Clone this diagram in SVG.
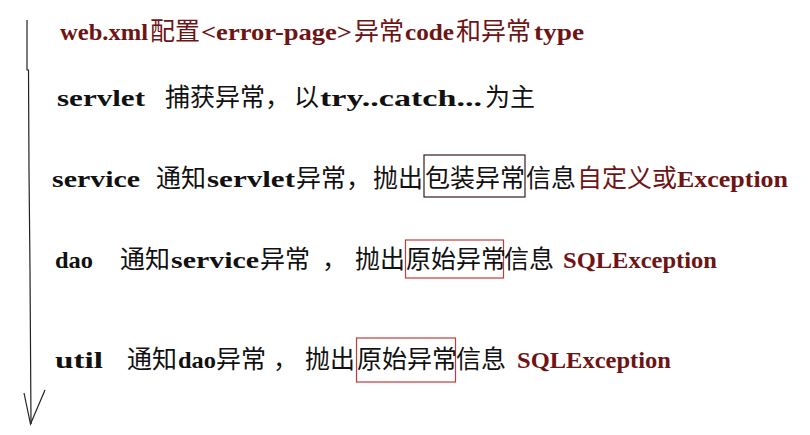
<svg xmlns="http://www.w3.org/2000/svg" width="810" height="435" viewBox="0 0 810 435">
<style>
.l{font-family:"Liberation Serif","DejaVu Serif",serif;font-size:23.5px;font-weight:bold}
.c{font-family:"Noto Sans CJK SC","Noto Sans CJK TC",sans-serif;font-size:25px;font-weight:normal}
.k{fill:#111}
.r{fill:#6e1414}
.box{fill:none;stroke-width:1.2}
.conn{fill:none;stroke:#222;stroke-width:1.2}
</style>
<rect width="810" height="435" fill="#fff"/>
<g id="connectors">
<polyline class="conn" points="27,20 27,70 28.5,70 29,170 30,270 31,424"/>
<polyline class="conn" points="24,393 30.5,424 45,390"/>
</g>
<g id="node-web">
<text y="40" class="r"><tspan class="l" x="60" textLength="88" lengthAdjust="spacingAndGlyphs">web.xml</tspan><tspan class="c" x="150">配置</tspan><tspan class="l" x="201" textLength="151" lengthAdjust="spacingAndGlyphs">&lt;error-page&gt;</tspan><tspan class="c" x="354">异常</tspan><tspan class="l" x="405" textLength="49" lengthAdjust="spacingAndGlyphs">code</tspan><tspan class="c" x="456">和异常</tspan><tspan class="l" x="534" textLength="50" lengthAdjust="spacingAndGlyphs">type</tspan></text>
</g>
<g id="node-servlet">
<text y="106" class="k"><tspan class="l" x="57" textLength="88" lengthAdjust="spacingAndGlyphs">servlet</tspan><tspan class="c" x="165">捕获异常，</tspan><tspan class="c" x="294">以</tspan><tspan class="l" x="320" textLength="162" lengthAdjust="spacingAndGlyphs">try..catch...</tspan><tspan class="c" x="485">为主</tspan></text>
</g>
<g id="node-service">
<rect class="box" x="424" y="155" width="101" height="42" stroke="#3a1c1c"/>
<text y="187" class="k"><tspan class="l" x="52" textLength="88" lengthAdjust="spacingAndGlyphs">service</tspan><tspan class="c" x="156">通知</tspan><tspan class="l" x="207" textLength="88" lengthAdjust="spacingAndGlyphs">servlet</tspan><tspan class="c" x="296">异常，</tspan><tspan class="c" x="373">抛出</tspan><tspan class="c" x="425">包装异常</tspan><tspan class="c" x="526">信息</tspan><tspan class="c r" x="577">自定义或</tspan><tspan class="l r" x="677" textLength="111" lengthAdjust="spacingAndGlyphs">Exception</tspan></text>
</g>
<g id="node-dao">
<rect class="box" x="405.5" y="240" width="98" height="38" stroke="#c23a3a"/>
<text y="268" class="k"><tspan class="l" x="55" textLength="38" lengthAdjust="spacingAndGlyphs">dao</tspan><tspan class="c" x="120">通知</tspan><tspan class="l" x="171" textLength="88" lengthAdjust="spacingAndGlyphs">service</tspan><tspan class="c" x="260">异常</tspan><tspan class="c" x="322">，</tspan><tspan class="c" x="355">抛出</tspan><tspan class="c" x="406">原始异常</tspan><tspan class="c" x="504">信息</tspan><tspan class="l r" x="563" textLength="154" lengthAdjust="spacingAndGlyphs">SQLException</tspan></text>
</g>
<g id="node-util">
<rect class="box" x="356.5" y="338" width="99" height="44" stroke="#c23a3a"/>
<text y="368" class="k"><tspan class="l" x="55" textLength="48" lengthAdjust="spacingAndGlyphs">util</tspan><tspan class="c" x="127">通知</tspan><tspan class="l" x="178" textLength="38" lengthAdjust="spacingAndGlyphs">dao</tspan><tspan class="c" x="216">异常</tspan><tspan class="c" x="273">，</tspan><tspan class="c" x="305">抛出</tspan><tspan class="c" x="357">原始异常</tspan><tspan class="c" x="456">信息</tspan><tspan class="l r" x="517" textLength="154" lengthAdjust="spacingAndGlyphs">SQLException</tspan></text>
</g>
</svg>
